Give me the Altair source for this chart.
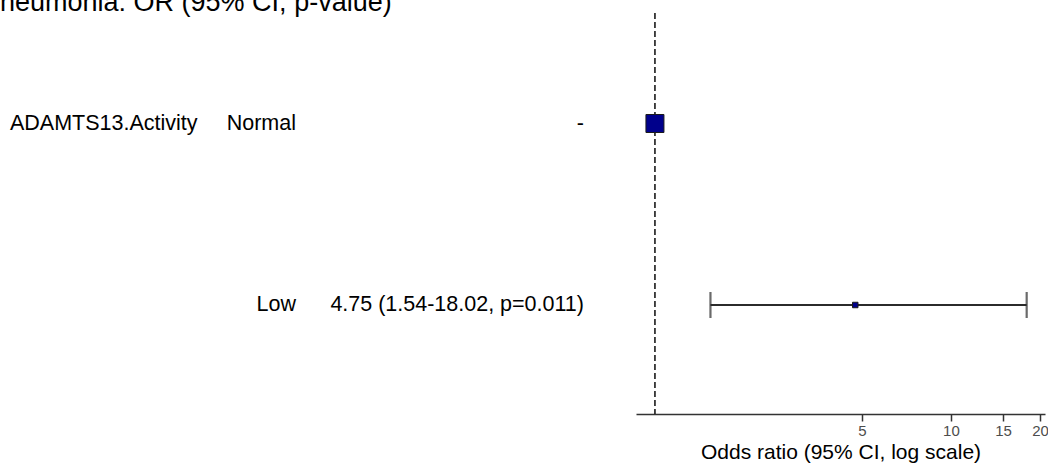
import altair as alt
import pandas as pd

# Forest plot of odds ratios with a text table on the left
title_text = "neumonia: OR (95% CI, p-value)"
axis_title = "Odds ratio (95% CI, log scale)"
variables = ["ADAMTS13.Activity", ""]
levels = ["Normal", "Low"]
odds_ratio = [1.0, 4.75]
ci_lower = [None, 1.54]
ci_upper = [None, 18.02]
p_values = [None, 0.011]
x_ticks = [5, 10, 15, 20]

FONT = "Liberation Sans"


def or_label(o, lo, hi, p):
    if lo is None:
        return "-"
    return f"{o:.2f} ({lo:.2f}-{hi:.2f}, p={p:.3f})"


rows = pd.DataFrame({
    "variable": variables,
    "level": levels,
    "or": odds_ratio,
    "lower": ci_lower,
    "upper": ci_upper,
    "label": [or_label(o, lo, hi, p) for o, lo, hi, p in zip(odds_ratio, ci_lower, ci_upper, p_values)],
    "kind": ["reference" if lo is None else "estimate" for lo in ci_lower],
})
ci_rows = rows.dropna(subset=["lower"])

x_scale = alt.Scale(type="log", domain=[0.863, 20.78], range=[636, 1045], nice=False, zero=False)
y_scale = alt.Scale(type="point", domain=levels, range=[123.5, 305], padding=0)
x_axis = alt.Axis(values=x_ticks, format="d", grid=False, title=axis_title)
y_enc = alt.Y("level:N", scale=y_scale, axis=None)


def xq(field):
    return alt.X(f"{field}:Q", scale=x_scale, axis=x_axis)


ref_line = alt.Chart(pd.DataFrame({"ref": [1.0]})).mark_rule(
    strokeDash=[6, 3], color="#1a1a1a", strokeWidth=1.6
).encode(x=xq("ref"), y=alt.value(13), y2=alt.value(414))

ci_bar = alt.Chart(ci_rows).mark_rule(color="#2b2b2b", strokeWidth=2.2).encode(
    x=xq("lower"), x2="upper:Q", y=y_enc
)
cap_lo = alt.Chart(ci_rows).mark_tick(color="#2b2b2b", size=26, thickness=2.2).encode(x=xq("lower"), y=y_enc)
cap_hi = alt.Chart(ci_rows).mark_tick(color="#2b2b2b", size=26, thickness=2.2).encode(x=xq("upper"), y=y_enc)

points = alt.Chart(rows).mark_square(
    filled=True, color="#00008B", stroke="#1a1a1a", strokeWidth=1, opacity=1
).encode(
    x=xq("or"),
    y=y_enc,
    size=alt.Size("kind:N", scale=alt.Scale(domain=["reference", "estimate"], range=[324, 30]), legend=None),
)

text_props = dict(font=FONT, fontSize=21.5, baseline="middle", color="black")
var_text = alt.Chart(rows).mark_text(align="left", **text_props).encode(
    x=alt.value(10), y=y_enc, text="variable:N"
)
level_text = alt.Chart(rows).mark_text(align="right", **text_props).encode(
    x=alt.value(296), y=y_enc, text="level:N"
)
or_text = alt.Chart(rows).mark_text(align="right", **text_props).encode(
    x=alt.value(584), y=y_enc, text="label:N"
)

heading = alt.Chart(pd.DataFrame({"t": [title_text]})).mark_text(
    align="left", baseline="alphabetic", font=FONT, fontSize=27, color="black"
).encode(x=alt.value(0), y=alt.value(11), text="t:N")

chart = alt.layer(
    ref_line, ci_bar, cap_lo, cap_hi, points, var_text, level_text, or_text, heading
).properties(
    width=1048,
    height=414,
    autosize=alt.AutoSizeParams(type="none"),
    padding={"left": 0, "top": 0, "right": 0, "bottom": 51},
    background="white",
).configure_view(stroke=None).configure_axisX(
    domainColor="#333333",
    domainWidth=1.5,
    tickColor="#333333",
    tickWidth=1.5,
    tickSize=7,
    labelFont=FONT,
    labelFontSize=15,
    labelColor="#4d4d4d",
    labelPadding=2,
    titleFont=FONT,
    titleFontSize=21,
    titleFontWeight="normal",
    titleColor="black",
    titlePadding=3,
)

chart.save("out.html", embed_options={"renderer": "svg", "actions": False})
